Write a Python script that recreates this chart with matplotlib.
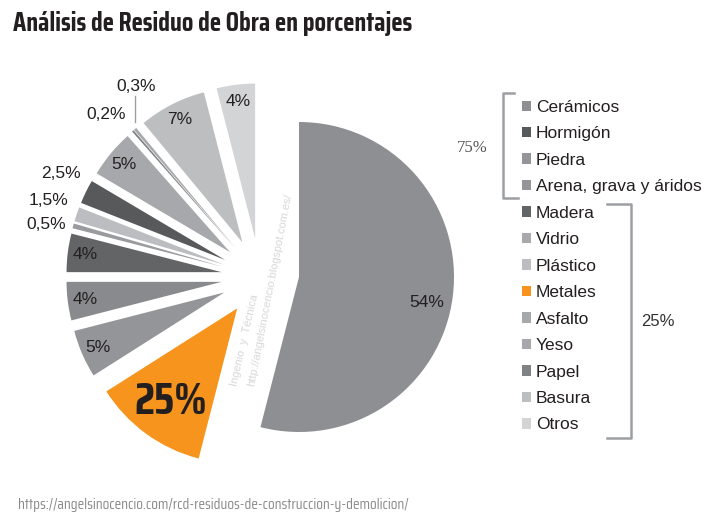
import matplotlib
matplotlib.use("Agg")
import matplotlib.pyplot as plt
from matplotlib import font_manager
from matplotlib.patches import Patch
import numpy as np

# datos (orden horario desde arriba)
materiales = ["Cerámicos", "Hormigón", "Piedra", "Arena, grava y áridos", "Madera",
              "Vidrio", "Plástico", "Metales", "Asfalto", "Yeso", "Papel", "Basura", "Otros"]
valores = [54, 12, 5, 4, 4, 0.5, 1.5, 2.5, 5, 0.2, 0.3, 7, 4]
etiquetas = ["54%", "25%", "5%", "4%", "4%", "0,5%", "1,5%", "2,5%", "5%", "0,2%", "0,3%", "7%", "4%"]
colores_sector = ["#8e8f93", "#f7941d", "#939598", "#898a8d", "#636466", "#9a9b9e", "#bcbdc0",
                  "#58595b", "#a6a8ab", "#808285", "#a7a9ac", "#bcbec0", "#d3d4d6"]
colores_leyenda = ["#8e8f93", "#58595b", "#939598", "#939598", "#636466", "#a7a9ac", "#bcbdc0",
                   "#f7941d", "#a6a8ab", "#a6a8ab", "#808285", "#bcbec0", "#d3d4d6"]
fuera = [5, 6, 7, 9, 10]  # etiquetas fuera del sector
# ajuste fino de etiquetas (px, y hacia arriba)
ajuste = {0: (0, -9), 1: (15, 18), 5: (0, -6), 6: (-2, 5), 7: (0, 6), 9: (-8, -5), 10: (19, 21)}


def primera_fuente(cands):
    disp = {f.name for f in font_manager.fontManager.ttflist}
    for c in cands:
        if c in disp:
            return c
    return "DejaVu Sans"


condensada = primera_fuente(["Saira Condensed", "Saira Extra Condensed", "Barlow Condensed",
                             "Roboto Condensed", "Oswald", "Liberation Sans Narrow"])

W, H = 710, 515
fig = plt.figure(figsize=(W / 100, H / 100), dpi=100)
ax = fig.add_axes([0, 0, 1, 1])

R = 155
cy = H - 277

# sector grande
w_main, _ = ax.pie(valores, radius=R, center=(299, cy), startangle=90,
                   counterclock=False, colors=colores_sector, frame=True)
for w in w_main[1:]:
    w.set_visible(False)

# resto, desplazado y separado
expl = [0] + [0.25 * R] * (len(valores) - 1)
w_rest, _ = ax.pie(valores, radius=R, center=(260, cy), startangle=90,
                   counterclock=False, colors=colores_sector, explode=expl, frame=True)
w_rest[0].set_visible(False)
ax.set_xlim(0, W)
ax.set_ylim(0, H)
ax.set_aspect("equal")
ax.axis("off")

wedges = [w_main[0]] + list(w_rest[1:])
for i, w in enumerate(wedges):
    ang = np.deg2rad((w.theta1 + w.theta2) / 2)
    cx, cyw = w.center
    if i == 0:
        d = 0.83
    elif i in fuera:
        d = 1.18
    else:
        d = 0.89
    dx, dy = ajuste.get(i, (0, 0))
    x = cx + d * R * np.cos(ang) + dx
    y = cyw + d * R * np.sin(ang) + dy
    if i == 1:
        ax.text(x, y, etiquetas[i], family=condensada, fontweight="bold", fontsize=32,
                color="#231f20", ha="center", va="center")
    else:
        ax.text(x, y, etiquetas[i], fontsize=12.5, color="#231f20", family="Liberation Sans",
                ha="center", va="center")

# linea guia 0,3%
ax.plot([135, 135], [H - 96, H - 122], color="#9d9fa2", lw=1)

# marca de agua
ax.text(245, H - 340, "Ingenio  y  Técnica", rotation=77, fontsize=8, color="#d8d8da",
        family="Liberation Sans", ha="center", va="center")
ax.text(270, H - 290, "http://angelsinocencio.blogspot.com.es/", rotation=79, fontsize=8,
        color="#d8d8da", family="Liberation Sans", ha="center", va="center")

# leyenda
handles = [Patch(facecolor=c, edgecolor="none") for c in colores_leyenda]
leg = ax.legend(handles, materiales, loc="upper left", bbox_to_anchor=(515 / W, 1 - 93 / H),
                frameon=False, prop={"family": "Liberation Sans", "size": 12.5},
                handlelength=0.55, handleheight=0.55, handletextpad=0.25, labelspacing=0.66,
                borderaxespad=0)
for t in leg.get_texts():
    t.set_color("#231f20")

# corchetes
gris = "#9d9fa2"
ax.plot([514, 503, 503, 518], [H - 93, H - 93, H - 198, H - 198], color=gris, lw=1.8)
ax.plot([607, 631, 631, 607], [H - 204, H - 204, H - 438, H - 438], color=gris, lw=1.8)
ax.text(472, H - 148, "75%", family="Liberation Serif", fontsize=12, color="#555555",
        ha="center", va="center")
ax.text(658, H - 322, "25%", family="Liberation Sans", fontsize=12, color="#333333",
        ha="center", va="center")

# titulo y fuente
ax.text(13, H - 23, "Análisis de Residuo de Obra en porcentajes", family=condensada,
        fontweight="bold", fontsize=19, color="#231f20", ha="left", va="center")
ax.text(18, H - 505, "https://angelsinocencio.com/rcd-residuos-de-construccion-y-demolicion/",
        family=condensada, fontsize=10.9, color="#8a8a8a", ha="left", va="center")

fig.savefig("out.png", dpi=100)
